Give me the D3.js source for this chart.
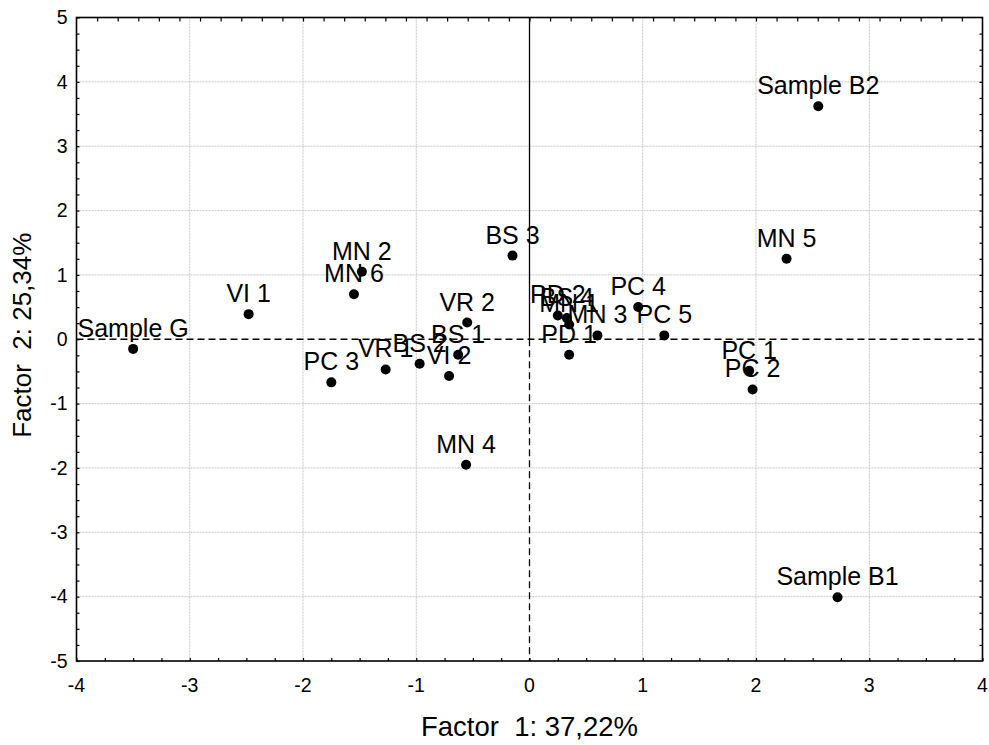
<!DOCTYPE html>
<html>
<head>
<meta charset="utf-8">
<script src="https://cdn.jsdelivr.net/npm/d3@7/dist/d3.min.js"></script>
<style>
  html, body { margin: 0; padding: 0; background: #fff; }
  svg { display: block; font-family: "Liberation Sans", Arial, sans-serif; }
</style>
</head>
<body>
<svg id="chart" width="989" height="745"></svg>
<script>
// Sample scores on the first two factors
const sampleNames = [
  "Sample G", "VI 1", "PC 3", "MN 2", "MN 6", "VR 1", "BS 2", "VI 2",
  "BS 1", "VR 2", "MN 4", "BS 3", "PD 2", "BS 4", "MN 1", "PD 1",
  "MN 3", "PC 4", "PC 5", "PC 1", "PC 2", "MN 5", "Sample B2", "Sample B1"
];
const factor1 = [
  -3.50, -2.48, -1.75, -1.48, -1.55, -1.27, -0.97, -0.71,
  -0.63, -0.55, -0.56, -0.15, 0.25, 0.33, 0.35, 0.35,
  0.60, 0.96, 1.19, 1.94, 1.97, 2.27, 2.55, 2.72
];
const factor2 = [
  -0.15, 0.39, -0.67, 1.05, 0.70, -0.47, -0.38, -0.57,
  -0.24, 0.26, -1.95, 1.30, 0.37, 0.33, 0.23, -0.24,
  0.06, 0.50, 0.06, -0.49, -0.78, 1.25, 3.62, -4.01
];
const xTicks = [-4, -3, -2, -1, 0, 1, 2, 3, 4];
const yTicks = [-5, -4, -3, -2, -1, 0, 1, 2, 3, 4, 5];
const xTitle = "Factor\u00a0\u00a01: 37,22%";
const yTitle = "Factor\u00a0\u00a02: 25,34%";

const plotLeft = 76.5, plotRight = 982.5, plotTop = 17.5, plotBottom = 661;
const svg = d3.select("#chart");

const x = d3.scaleLinear().domain([-4, 4]).range([plotLeft, plotRight]);
const y = d3.scaleLinear().domain([-5, 5]).range([plotBottom, plotTop]);

// light dotted grid at whole units
const grid = svg.append("g").attr("stroke", "#c4c4c4").attr("stroke-width", 1)
  .attr("stroke-dasharray", "2,1");
xTicks.filter(v => v !== 0 && v !== -4 && v !== 4).forEach(v => {
  grid.append("line").attr("x1", x(v)).attr("x2", x(v)).attr("y1", plotTop).attr("y2", plotBottom);
});
yTicks.filter(v => v !== 0 && v !== -5 && v !== 5).forEach(v => {
  grid.append("line").attr("y1", y(v)).attr("y2", y(v)).attr("x1", plotLeft).attr("x2", plotRight);
});

// origin lines: horizontal dashed, vertical solid above / dashed below
svg.append("line").attr("x1", plotLeft).attr("x2", plotRight).attr("y1", y(0)).attr("y2", y(0))
  .attr("stroke", "#000").attr("stroke-width", 1.3).attr("stroke-dasharray", "7,4");
svg.append("line").attr("x1", x(0)).attr("x2", x(0)).attr("y1", plotTop).attr("y2", y(0))
  .attr("stroke", "#000").attr("stroke-width", 1.3);
svg.append("line").attr("x1", x(0)).attr("x2", x(0)).attr("y1", y(0)).attr("y2", plotBottom)
  .attr("stroke", "#000").attr("stroke-width", 1.3).attr("stroke-dasharray", "7,4");

// axes with inward minor ticks
const minorX = d3.range(-4, 4.001, 0.25);
const minorY = d3.range(-5, 5.001, 0.25);

const bottomAxis = svg.append("g").attr("transform", `translate(0,${plotBottom})`)
  .call(d3.axisBottom(x).tickValues(minorX).tickSize(-3).tickFormat(""));
const leftAxis = svg.append("g").attr("transform", `translate(${plotLeft},0)`)
  .call(d3.axisLeft(y).tickValues(minorY).tickSize(-3).tickFormat(""));
const topTicks = d3.range(-22, 23).map(k => k * 2 / 11).filter(v => v > -4 && v < 4);
const topAxis = svg.append("g").attr("transform", `translate(0,${plotTop})`)
  .call(d3.axisTop(x).tickValues(topTicks).tickSize(-4).tickFormat(""));
const rightTicks = d3.range(-5, 5.001, 0.25).filter(v => v > -5 && v < 5);
const rightAxis = svg.append("g").attr("transform", `translate(${plotRight},0)`)
  .call(d3.axisRight(y).tickValues(rightTicks).tickSize(-3).tickFormat(""));
[bottomAxis, leftAxis, topAxis, rightAxis].forEach(g => {
  g.select(".domain").remove();
  g.selectAll(".tick line").attr("stroke", "#000").attr("stroke-width", 1.2);
});

// frame
svg.append("rect").attr("x", plotLeft).attr("y", plotTop).attr("width", plotRight - plotLeft)
  .attr("height", plotBottom - plotTop).attr("fill", "none").attr("stroke", "#000").attr("stroke-width", 1.6);

// tick labels
svg.append("g").selectAll("text").data(xTicks).join("text")
  .attr("x", d => x(d)).attr("y", plotBottom + 31).attr("text-anchor", "middle")
  .attr("font-size", 19.5).attr("fill", "#000").text(d => d);
svg.append("g").selectAll("text").data(yTicks).join("text")
  .attr("x", plotLeft - 9).attr("y", d => y(d)).attr("dy", "0.35em").attr("text-anchor", "end")
  .attr("font-size", 19.5).attr("fill", "#000").text(d => d);

// axis titles
svg.append("text").attr("x", x(0)).attr("y", 736).attr("text-anchor", "middle")
  .attr("font-size", 27.5).attr("fill", "#000").text(xTitle);
svg.append("text").attr("transform", `translate(31,${y(0) - 4}) rotate(-90)`)
  .attr("text-anchor", "middle").attr("font-size", 26).attr("fill", "#000").text(yTitle);

// points and their names
const pts = sampleNames.map((n, i) => ({ name: n, f1: factor1[i], f2: factor2[i] }));
svg.append("g").selectAll("text").data(pts).join("text")
  .attr("x", d => x(d.f1)).attr("y", d => y(d.f2) - 12).attr("text-anchor", "middle")
  .attr("font-size", 25).attr("fill", "#000").text(d => d.name);
svg.append("g").selectAll("circle").data(pts).join("circle")
  .attr("cx", d => x(d.f1)).attr("cy", d => y(d.f2)).attr("r", 5).attr("fill", "#000");
</script>
</body>
</html>
